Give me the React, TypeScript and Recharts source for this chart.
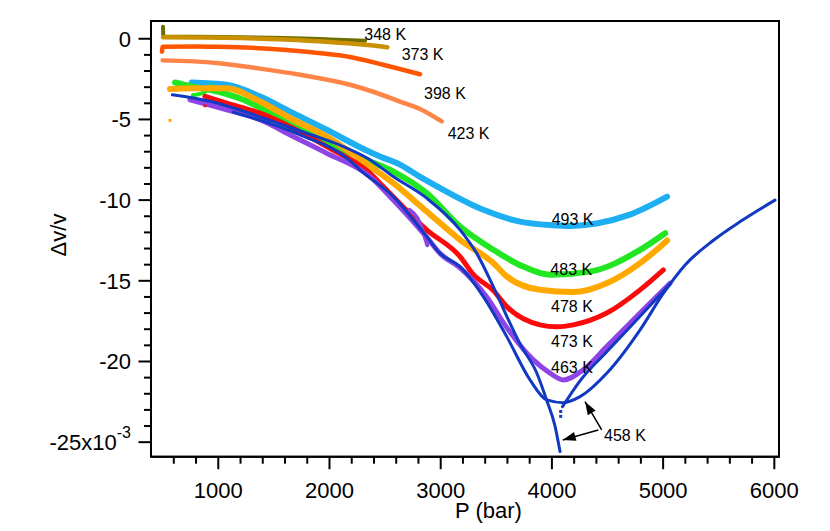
import React from 'react';
import { ComposedChart, Line, Scatter, XAxis, YAxis, ReferenceArea, Customized } from 'recharts';

type Pair = [number, number];

// Δv/v in units of 1e-3 versus P (bar)
const t348: Pair[] = [[503, 0.75], [506, 0.12], [800, 0.12], [1200, 0.1], [1600, 0.05], [2000, -0.04], [2320, -0.12]];
const t373: Pair[] = [[503, 0.1], [800, 0.08], [1200, 0.04], [1600, -0.05], [2000, -0.2], [2300, -0.36], [2520, -0.52]];
const t398: Pair[] = [[494, -0.8], [500, -0.5], [800, -0.48], [1000, -0.5], [1300, -0.56], [1582, -0.68], [1900, -0.88], [2185, -1.13], [2482, -1.61], [2814, -2.2]];
const t423: Pair[] = [[500, -1.34], [985, -1.5], [1375, -1.85], [1735, -2.23], [2185, -2.85], [2400, -3.3], [2634, -3.89], [2814, -4.35], [3009, -5.12]];
const t493: Pair[] = [[761, -2.71], [1076, -2.85], [1375, -3.58], [1674, -4.61], [1975, -5.64], [2320, -6.88], [2454, -7.3], [2634, -7.8], [2800, -8.5], [3023, -9.36], [3383, -10.6], [3713, -11.33], [4000, -11.55], [4163, -11.6], [4400, -11.45], [4700, -10.9], [5036, -9.78]];
const t483: Pair[] = [[611, -2.71], [761, -2.96], [925, -3.16], [1225, -3.78], [1525, -4.82], [1825, -5.85], [2124, -6.88], [2364, -7.6], [2574, -8.23], [2874, -9.57], [3174, -11.64], [3473, -13.08], [3743, -14.12], [3983, -14.63], [4343, -14.43], [4793, -13.08], [5018, -12.05]];
const t483spur: Pair[] = [[770, -3.5], [880, -3.3], [935, -2.9]];
const t478: Pair[] = [[566, -3.12], [761, -3.06], [1076, -3.06], [1375, -3.89], [1674, -5.02], [1975, -6.06], [2364, -7.9], [2574, -8.95], [2874, -10.7], [3174, -12.46], [3473, -13.9], [3594, -14.73], [3893, -15.56], [4193, -15.7], [4493, -15.15], [4793, -13.9], [4942, -13.08], [5036, -12.5]];
const t473: Pair[] = [[880, -3.57], [1076, -3.99], [1375, -4.61], [1674, -5.54], [1975, -6.68], [2364, -8.33], [2454, -8.95], [2874, -11.84], [3174, -13.5], [3293, -14.6], [3473, -15.6], [3594, -16.6], [3893, -17.73], [4040, -17.85], [4193, -17.73], [4493, -17.0], [4793, -15.56], [5002, -14.32]];
const t463: Pair[] = [[745, -3.78], [1076, -4.4], [1375, -5.02], [1674, -6.06], [1975, -7.09], [2364, -8.54], [2574, -10.0], [2874, -12.3], [2994, -13.3], [3174, -14.2], [3414, -16.0], [3594, -17.9], [3833, -19.9], [3980, -20.7], [4103, -21.14], [4282, -20.52], [4493, -19.08], [4793, -17.0], [5062, -15.15]];
const t463jag: Pair[] = [[2720, -10.6], [2790, -11.1], [2880, -12.8]];
const t458a: Pair[] = [[587, -3.47], [935, -3.89], [1235, -4.51], [1535, -5.23], [1835, -5.95], [2124, -6.68], [2364, -7.5], [2574, -8.54], [2874, -9.88], [3174, -11.84], [3324, -13.3], [3473, -15.36], [3594, -17.2], [3720, -19.0], [3863, -20.7], [3953, -22.4], [4028, -24.0], [4073, -25.58]];
const t458b: Pair[] = [[1134, -4.55], [1735, -5.95], [2185, -7.55], [2274, -8.12], [2574, -9.78], [2874, -12.26], [2994, -13.3], [3174, -14.12], [3383, -15.98], [3594, -18.46], [3803, -21.14], [3953, -22.38], [4103, -22.55], [4253, -22.18], [4493, -20.73], [4793, -18.04], [5000, -15.8], [5200, -14.0], [5450, -12.5], [5700, -11.3], [6006, -10.0]];
const t458c: Pair[] = [[4095, -22.8], [4253, -21.2], [4493, -19.4], [4793, -17.2], [5062, -15.2]];
const t458dots: Pair[] = [[4079, -23.1], [4079, -23.4]];
const orangeDots: Pair[] = [[566, -5.06]];
const redDots: Pair[] = [[880, -4.15]];

const curveLabels = ['348 K', '373 K', '398 K', '423 K', '493 K', '483 K', '478 K', '473 K', '463 K', '458 K'];
const labelP = [2313, 2649, 2850, 3063, 3998, 3986, 3992, 3992, 3992, 4469];
const labelV = [-0.105, -1.3, -3.74, -6.23, -11.53, -14.67, -16.91, -19.11, -20.69, -24.92];

const arrowUp: Pair[] = [[4448, -24.24], [4298, -22.49]];
const arrowLeft: Pair[] = [[4417, -24.24], [4097, -24.86]];

const xTicks = [600, 800, 1000, 1200, 1400, 1600, 1800, 2000, 2200, 2400, 2600, 2800, 3000, 3200, 3400, 3600, 3800, 4000, 4200, 4400, 4600, 4800, 5000, 5200, 5400, 5600, 5800, 6000];
const xMajor = [1000, 2000, 3000, 4000, 5000, 6000];
const yTicks = [-25, -24, -23, -22, -21, -20, -19, -18, -17, -16, -15, -14, -13, -12, -11, -10, -9, -8, -7, -6, -5, -4, -3, -2, -1, 0];
const yMajor = [-25, -20, -15, -10, -5, 0];

const X_DOMAIN: [number, number] = [395, 6042];
const Y_DOMAIN: [number, number] = [-25.9, 1.1];

const FONT = '"Liberation Sans", Arial, Helvetica, sans-serif';

const pts = (a: Pair[]) => a.map(([P, v]) => ({ P, v }));
const labelData = curveLabels.map((label, i) => ({ P: labelP[i], v: labelV[i], label }));

const XTick = (props: any) => {
  const { x, y, payload } = props;
  const major = xMajor.includes(payload.value);
  return (
    <g>
      <line x1={x} y1={y} x2={x} y2={y + (major ? 12.5 : 7)} stroke="#000" strokeWidth={2} />
      {major && (
        <text x={x} y={y + 41.6} textAnchor="middle" fontSize={22} fontFamily={FONT} fill="#000">
          {payload.value}
        </text>
      )}
    </g>
  );
};

const YTick = (props: any) => {
  const { x, y, payload } = props;
  const major = yMajor.includes(payload.value);
  const last = payload.value === -25;
  return (
    <g>
      <line x1={x} y1={y} x2={x - (major ? 12.5 : 7)} y2={y} stroke="#000" strokeWidth={2} />
      {major && (
        <text x={x - 20} y={y + 8} textAnchor="end" fontSize={22} fontFamily={FONT} fill="#000">
          {last ? (
            <>
              {`${payload.value}x10`}
              <tspan fontSize={16} dy={-12}>-3</tspan>
            </>
          ) : (
            `${payload.value}`
          )}
        </text>
      )}
    </g>
  );
};

const ArrowDot = (props: any) => {
  const { index, cx, cy, points } = props;
  if (index !== 1 || !points || points.length < 2) return <g key={`ad-${index}`} />;
  const p0 = points[0];
  const dx = cx - p0.x;
  const dy = cy - p0.y;
  const len = Math.sqrt(dx * dx + dy * dy) || 1;
  const ux = dx / len;
  const uy = dy / len;
  const L = 13;
  const W = 4.5;
  const bx = cx - ux * L;
  const by = cy - uy * L;
  const d = `M${cx},${cy} L${bx - uy * W},${by + ux * W} L${bx + uy * W},${by - ux * W} Z`;
  return <path key={`ad-${index}`} d={d} fill="#000" stroke="none" />;
};

const Square = (props: any) => {
  const { cx, cy, fill } = props;
  return <rect x={cx - 1.5} y={cy - 1.5} width={3} height={3} fill={fill} />;
};

const LabelText = (props: any) => {
  const { cx, cy, payload } = props;
  return (
    <text x={cx} y={cy} fontSize={16} fontFamily={FONT} fill="#000">
      {payload.label}
    </text>
  );
};

const series: { data: Pair[]; color: string; w: number }[] = [
  { data: t348, color: '#6e6e00', w: 4 },
  { data: t373, color: '#c99000', w: 4.5 },
  { data: t398, color: '#ff5500', w: 4.5 },
  { data: t423, color: '#ff8448', w: 4.5 },
  { data: t493, color: '#1eaef2', w: 6 },
  { data: t483, color: '#22e622', w: 6 },
  { data: t483spur, color: '#22e622', w: 4 },
  { data: t478, color: '#ffa800', w: 6 },
  { data: t473, color: '#fa0a0a', w: 5 },
  { data: t463, color: '#8f44e6', w: 5 },
  { data: t463jag, color: '#8f44e6', w: 4 },
  { data: t458b, color: '#1239c2', w: 3 },
  { data: t458a, color: '#1239c2', w: 3 },
  { data: t458c, color: '#1239c2', w: 3 },
];

export default function App() {
  return (
    <div style={{ width: 814, height: 515, fontFamily: FONT }}>
      <ComposedChart width={814} height={515} margin={{ top: 13, right: 43, left: 8, bottom: 6.3 }}>
        <XAxis
          dataKey="P"
          type="number"
          domain={X_DOMAIN}
          allowDataOverflow
          ticks={xTicks}
          interval={0}
          tick={<XTick />}
          tickLine={false}
          axisLine={{ stroke: '#000', strokeWidth: 2 }}
          tickSize={0}
          tickMargin={0}
          height={60}
        />
        <XAxis
          xAxisId="top"
          orientation="top"
          dataKey="P"
          type="number"
          domain={X_DOMAIN}
          allowDataOverflow
          tick={false}
          tickLine={false}
          axisLine={{ stroke: '#000', strokeWidth: 2 }}
          height={0}
        />
        <YAxis
          dataKey="v"
          type="number"
          domain={Y_DOMAIN}
          allowDataOverflow
          ticks={yTicks}
          interval={0}
          tick={<YTick />}
          tickLine={false}
          axisLine={{ stroke: '#000', strokeWidth: 2 }}
          tickSize={0}
          tickMargin={0}
          width={135}
        />
        <YAxis
          yAxisId="right"
          orientation="right"
          dataKey="v"
          type="number"
          domain={Y_DOMAIN}
          allowDataOverflow
          tick={false}
          tickLine={false}
          axisLine={{ stroke: '#000', strokeWidth: 2 }}
          width={0}
        />
        <ReferenceArea x1={X_DOMAIN[0]} x2={X_DOMAIN[1]} y1={Y_DOMAIN[0]} y2={Y_DOMAIN[1]} fill="none" stroke="#000" strokeWidth={2} />
        {series.map((s, i) => (
          <Line
            key={`s${i}`}
            data={pts(s.data)}
            dataKey="v"
            type="monotone"
            stroke={s.color}
            strokeWidth={s.w}
            strokeLinecap="round"
            dot={false}
            activeDot={false}
            isAnimationActive={false}
          />
        ))}
        <Scatter data={pts(t458dots)} dataKey="v" fill="#1239c2" shape={<Square />} isAnimationActive={false} />
        <Scatter data={pts(orangeDots)} dataKey="v" fill="#ffa800" shape={<Square />} isAnimationActive={false} />
        <Scatter data={pts(redDots)} dataKey="v" fill="#fa0a0a" shape={<Square />} isAnimationActive={false} />
        <Line data={pts(arrowUp)} dataKey="v" type="linear" stroke="#000" strokeWidth={1.5} dot={(p: any) => <ArrowDot {...p} />} activeDot={false} isAnimationActive={false} />
        <Line data={pts(arrowLeft)} dataKey="v" type="linear" stroke="#000" strokeWidth={1.5} dot={(p: any) => <ArrowDot {...p} />} activeDot={false} isAnimationActive={false} />
        <Scatter data={labelData} dataKey="v" shape={<LabelText />} isAnimationActive={false} />
        <Customized
          component={() => (
            <g>
              <text x={480.5} y={509.5} textAnchor="middle" fontSize={22} fontFamily={FONT} fill="#000">
                P (bar)
              </text>
              <text
                transform="translate(50,227) rotate(-90)"
                textAnchor="middle"
                dominantBaseline="central"
                fontSize={22}
                fontFamily={FONT}
                fill="#000"
              >
                Δv/v
              </text>
            </g>
          )}
        />
      </ComposedChart>
    </div>
  );
}
